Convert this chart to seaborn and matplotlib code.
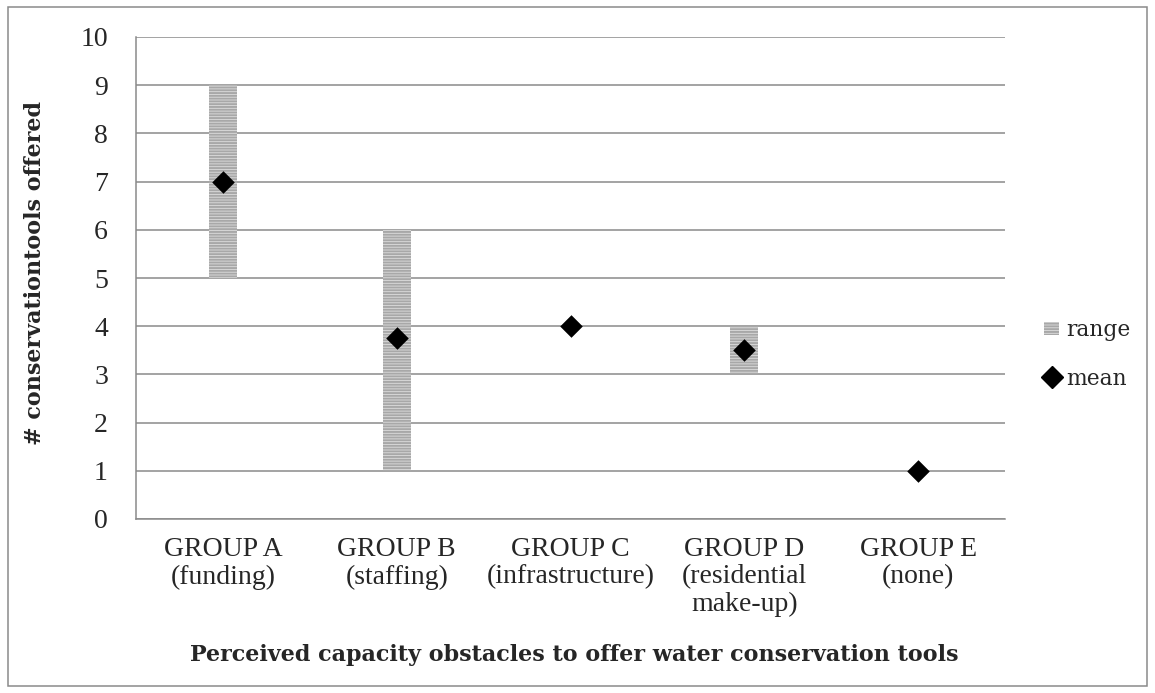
import matplotlib
matplotlib.use("Agg")
import matplotlib.pyplot as plt
from matplotlib.patches import Patch, Rectangle
from matplotlib.lines import Line2D
import seaborn as sns
import pandas as pd

# Number of conservation tools offered, by perceived capacity obstacle
groups = ["GROUP A", "GROUP B", "GROUP C", "GROUP D", "GROUP E"]
group_labels = [
    "GROUP A\n(funding)",
    "GROUP B\n(staffing)",
    "GROUP C\n(infrastructure)",
    "GROUP D\n(residential\nmake-up)",
    "GROUP E\n(none)",
]
range_low = [5, 1, 4, 3, 1]
range_high = [9, 6, 4, 4, 1]
means = [7, 3.75, 4, 3.5, 1]
y_ticks = list(range(0, 11))

df = pd.DataFrame({
    "group": groups,
    "low": range_low,
    "high": range_high,
    "span": [h - l for h, l in zip(range_high, range_low)],
    "mean": means,
})

sns.set_style("white")
plt.rcParams["font.family"] = ["Liberation Serif", "DejaVu Serif"]
plt.rcParams["hatch.linewidth"] = 1.4
plt.rcParams["hatch.color"] = "#a8a8a8"

GRID = "#8a8a8a"
TICK_FONT = "Liberation Serif"
BOLD_FONT = "DejaVu Serif"

fig = plt.figure(figsize=(11.55, 6.93), dpi=100)
ax = fig.add_axes([136 / 1155, 1 - 519 / 693, (1005 - 136) / 1155, (519 - 37) / 693])

# Range bars: height is the span, then each bar is lifted to its low value
sns.barplot(data=df, x="group", y="span", ax=ax, width=0.16,
            color="#dedede", edgecolor="#a8a8a8", linewidth=0,
            hatch="------", saturation=1, zorder=3)
for patch, lo, span in zip(ax.patches, df["low"], df["span"]):
    patch.set_y(lo)
    patch.set_height(span)

# Mean markers
sns.stripplot(data=df, x="group", y="mean", ax=ax, jitter=False,
              marker="D", size=11.5, color="black", linewidth=0, zorder=4)

ax.set_xlim(-0.5, len(groups) - 0.5)
ax.set_ylim(0, 10)
ax.set_yticks(y_ticks)
ax.set_yticklabels([str(t) for t in y_ticks], fontsize=20, family=TICK_FONT)
ax.set_xticks(range(len(groups)))
ax.set_xticklabels(group_labels, fontsize=20, linespacing=1.12, family=TICK_FONT)
ax.set_xticks([i - 0.5 for i in range(len(groups) + 1)], minor=True)
ax.tick_params(axis="x", which="major", length=0, pad=13)
ax.tick_params(axis="x", which="minor", length=6, width=1.1, color=GRID, direction="out")
ax.tick_params(axis="y", length=7.2, width=1.1, color=GRID, direction="out", pad=13)

ax.grid(axis="y", color=GRID, linewidth=1.1, zorder=1)
ax.grid(axis="x", visible=False)
ax.set_axisbelow(True)
for side in ("top", "right"):
    ax.spines[side].set_visible(False)
for side in ("left", "bottom"):
    ax.spines[side].set_color(GRID)
    ax.spines[side].set_linewidth(1.1)
    ax.spines[side].set_zorder(2)

ax.set_xlabel("")
ax.set_ylabel("")
fig.text(0.5 * (136 + 1005) / 1155 + 0.003, 1 - 655 / 693,
         "Perceived capacity obstacles to offer water conservation tools",
         ha="center", va="center", fontsize=16, fontweight="bold", family=BOLD_FONT)
fig.text(35 / 1155, 1 - 273 / 693, "# conservationtools offered",
         ha="center", va="center", rotation=90, fontsize=16,
         fontweight="bold", family=BOLD_FONT)

handles = [
    Patch(facecolor="#dedede", edgecolor="#a8a8a8", linewidth=0, hatch="------"),
    Line2D([], [], marker="D", color="black", linestyle="none", markersize=11),
]
fig.legend(handles, ["range", "mean"], loc="center left",
           bbox_to_anchor=(1044 / 1155, 1 - 354.5 / 693), frameon=False,
           prop={"family": BOLD_FONT, "size": 15.7}, handlelength=0.7,
           handleheight=0.6, handletextpad=0.3, labelspacing=1.22,
           borderpad=0, borderaxespad=0)

# Outer frame around the whole figure
fig.patches.append(Rectangle((8 / 1155, 7 / 693), (1147 - 8) / 1155, (686 - 7) / 693,
                             transform=fig.transFigure, fill=False,
                             edgecolor=GRID, linewidth=1.1))

fig.savefig("out.png", dpi=100)
